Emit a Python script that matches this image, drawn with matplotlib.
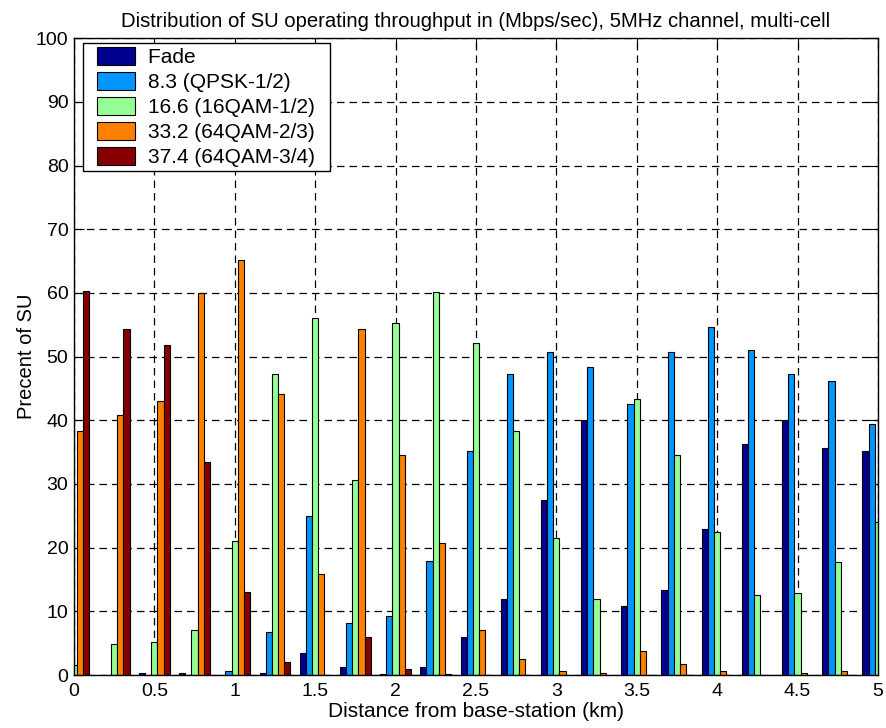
import numpy as np
import matplotlib
matplotlib.use("Agg")
import matplotlib.pyplot as plt
from matplotlib.legend_handler import HandlerPatch, update_from_first_child
from matplotlib.container import BarContainer

# Distance groups (km)
distancia = [0, 0.25, 0.5, 0.75, 1.0, 1.25, 1.5, 1.75, 2.0, 2.25, 2.5,
             2.75, 3.0, 3.25, 3.5, 3.75, 4.0, 4.25, 4.5, 4.75, 5.0]

# Percent of SU per modulation
fade = [0, 0, 0.3, 0.3, 0, 0.3, 3.4, 1.3, 0.2, 1.3, 5.9,
        12.0, 27.5, 40.0, 10.9, 13.4, 22.9, 36.3, 40.0, 35.6, 35.2]
qpsk = [0, 0, 0, 0, 0.7, 6.7, 25.0, 8.1, 9.2, 17.9, 35.2,
        47.2, 50.8, 48.3, 42.6, 50.8, 54.7, 51.1, 47.2, 46.2, 39.5]
qam16 = [1.5, 4.9, 5.2, 7.0, 21.1, 47.2, 56.0, 30.6, 55.3, 60.2, 52.2,
         38.4, 21.5, 12.0, 43.4, 34.6, 22.5, 12.6, 12.9, 17.8, 24.0]
qam64_23 = [38.4, 40.9, 43.0, 60.0, 65.2, 44.1, 15.8, 54.3, 34.6, 20.7, 7.1,
            2.5, 0.7, 0.3, 3.8, 1.7, 0.7, 0, 0.3, 0.7, 0]
qam64_34 = [60.3, 54.3, 51.8, 33.5, 13.0, 2.1, 0, 5.9, 1.0, 0.2, 0,
            0, 0, 0, 0, 0, 0, 0, 0, 0, 0]

series = [fade, qpsk, qam16, qam64_23, qam64_34]
rotulos = ["Fade", "8.3 (QPSK-1/2)", "16.6 (16QAM-1/2)",
           "33.2 (64QAM-2/3)", "37.4 (64QAM-3/4)"]
cores = ["#000090", "#0095FF", "#95FF95", "#FF8000", "#850000"]

xticks = [0, 0.5, 1, 1.5, 2, 2.5, 3, 3.5, 4, 4.5, 5]
xticklabels = ["0", "0.5", "1", "1.5", "2", "2.5", "3", "3.5", "4", "4.5", "5"]
yticks = list(range(0, 101, 10))

plt.rcParams["font.family"] = ["Liberation Sans", "DejaVu Sans"]

fig = plt.figure(figsize=(8.86, 7.28), dpi=100)
ax = fig.add_axes([0.0835, 0.0728, 0.9074, 0.8746])

x = np.array(distancia)
passo = 0.25 * 0.769 / 5
for i, (vals, lab, cor) in enumerate(zip(series, rotulos, cores)):
    ax.bar(x + (i - 2) * passo, vals, width=passo, color=cor,
           edgecolor="black", linewidth=0.8, label=lab + "  ", zorder=3)

ax.set_xlim(0, 5)
ax.set_ylim(0, 100)
ax.set_xticks(xticks)
ax.set_xticklabels(xticklabels)
ax.set_yticks(yticks)
ax.tick_params(direction="in", top=True, right=True, labelsize=14, length=7, color="black")
ax.tick_params(axis="x", pad=6)
ax.tick_params(axis="y", pad=4)
ax.grid(True, color="black", linestyle=(0, (6, 4)), linewidth=0.9, zorder=1)
ax.set_axisbelow(False)
for s in ax.spines.values():
    s.set_linewidth(1.0)
    s.set_zorder(4)

ax.set_title("Distribution of SU operating throughput in (Mbps/sec), 5MHz channel, multi-cell",
             fontsize=14.6, pad=8)
ax.set_xlabel("Distance from base-station (km)", fontsize=15, labelpad=1)
ax.set_ylabel("Precent of SU", fontsize=14.5, labelpad=0)

leg = ax.legend(loc="upper left", bbox_to_anchor=(0.0108, 0.993), fontsize=15,
                frameon=True, fancybox=False, edgecolor="black", framealpha=1,
                borderaxespad=0, borderpad=0.2, handlelength=2.3, handleheight=0.96,
                handletextpad=0.62, labelspacing=0.23,
                handler_map={BarContainer: HandlerPatch(xpad=0.47,
                                                        update_func=update_from_first_child)})
leg.get_frame().set_linewidth(1.0)
leg.set_zorder(5)

fig.savefig("out.png", dpi=100)
